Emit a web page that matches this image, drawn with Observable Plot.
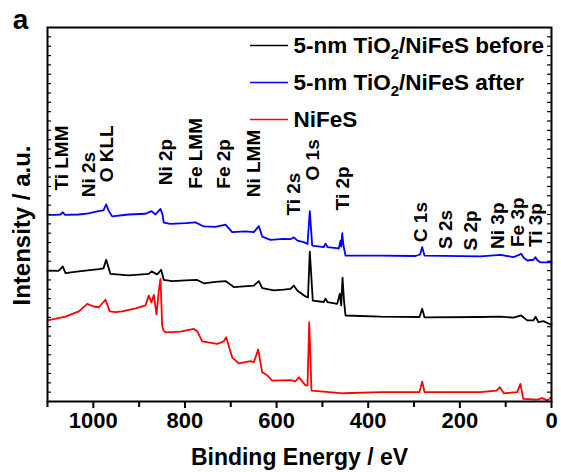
<!DOCTYPE html>
<html>
<head>
<meta charset="utf-8">
<script src="https://cdn.jsdelivr.net/npm/d3@7"></script>
<script src="https://cdn.jsdelivr.net/npm/@observablehq/plot@0.6"></script>
<style>
  html, body { margin: 0; padding: 0; background: #fff; }
  #chart { width: 561px; height: 472px; }
</style>
</head>
<body>
<div id="chart"></div>
<script>
// ---- Data (binding energy in eV, intensity in a.u.) ----
const seriesNames = ["5-nm TiO2/NiFeS before", "5-nm TiO2/NiFeS after", "NiFeS"];
const seriesColors = ["#000000", "#0000ff", "#ff0000"];

const afterEV = [1100,1082.5,1071.6,1066.6,1061.8,1032.3,1010.5,988.7,977.8,971.9,966.9,958.8,923.2,886.1,873,864.3,853.3,849,846.2,831.6,798.8,777,758.9,733.3,711.5,696.9,667.8,649.7,638.8,631.4,613.3,584.9,569.6,562.4,554.4,540.6,532.5,527.5,522.3,497,493.2,488.9,469.2,464.2,460.5,458.8,456.8,454,449.6,373.2,296.8,287,282.2,277.2,155,111.3,82.9,70.9,66.1,61.1,53,39.3,34.9,30.6,24,13.1,2.2,0];
const afterI  = [49.9,49.9,50.0,50.6,49.9,50.0,50.3,50.9,51.1,52.7,51.1,49.5,50.0,50.2,50.9,50.0,51.5,50.0,47.8,47.5,47.7,47.9,46.8,46.7,47.3,45.3,45.5,45.3,46.9,44.1,43.2,43.5,43.4,43.9,43.0,42.6,42.1,50.9,41.7,41.3,42.2,41.3,41.0,40.9,43.0,41.4,45.0,41.7,39.0,39.0,38.9,39.3,41.3,39.0,38.8,39.2,38.6,39.2,39.5,38.5,37.7,37.9,38.6,37.7,37.2,37.2,37.2,37.2];

const beforeEV = [1100,1076,1070.5,1066.6,1060.7,1031.7,1002.5,988,977.8,971.9,962.5,922.5,878.9,873,860.6,851.8,846.2,827.8,798.8,773.3,758.9,733.3,711.5,693.4,649.7,638.8,631.4,606.1,584.9,569.6,562.4,555,536.9,531.5,527.5,521,497,493.2,488.9,467.7,462,459,456.1,452.9,449.6,373.2,288.1,282.2,277.2,155,111.3,82.9,66.1,53,39.3,34.9,28.4,17.5,2.2,0];
const beforeI  = [35.0,34.9,35.6,36.1,34.3,34.8,35.2,35.4,35.6,37.9,34.1,33.7,34.1,34.8,34.0,35.2,32.5,32.2,32.4,32.5,31.6,32.0,32.2,30.6,31.0,32.2,30.3,29.7,29.9,30.1,31.0,29.7,28.1,27.8,40.1,27.0,26.6,27.5,26.6,26.1,28.8,25.7,33.1,27.0,23.0,22.7,22.6,24.8,22.5,22.6,22.7,22.4,23.0,21.7,21.7,22.7,21.2,21.5,20.6,20.6];

const nifesEV = [1100,1060.7,1031.7,1013.4,1009.8,998.9,988,973.4,964,951.6,937,907.9,886.1,878.9,873,868,862.1,857,853.4,849.7,846.8,842.4,809.7,780.7,772.6,762.4,729.6,715.2,710,696.9,682.5,656.9,649.7,640.1,631.4,620.5,609.6,569.6,558.7,551.5,536.9,532.5,528.8,523.8,454,373.2,288.1,282.2,277.2,155,120,112.8,104.1,74.9,67.7,61.8,31.2,20.3,9.4,0.7];
const nifesI  = [21.7,22.7,24.1,26.1,25.9,25.4,25.2,27.2,24.1,23.9,24.1,24.9,25.7,28.3,26.5,28.5,23.3,29.7,32.8,20.3,19.0,18.5,18.7,19.4,18.7,16.1,15.4,16.1,17.2,11.8,10.2,10.8,10.5,13.9,7.8,7.0,5.6,5.7,5.4,6.5,4.3,4.3,21.2,2.9,2.2,2.5,2.5,5.3,2.5,2.5,2.9,3.8,2.2,2.5,4.7,0.7,0.5,0.9,0.3,1.1];

// Peak annotations: label, energy (eV), intensity at which the label starts
const peakLabels = ["Ti LMM","Ni 2s","O KLL","Ni 2p","Fe LMM","Fe 2p","Ni LMM","Ti 2s","O 1s","Ti 2p","C 1s","S 2s","S 2p","Ni 3p","Fe 3p","Ti 3p"];
const peakEV     = [1067.9,1010.5,969.7,842.4,777,715.9,650.4,563.1,521.6,456.1,285.9,231.3,176.8,117.9,74.2,34.9];
const peakY      = [56.4,54.6,58.6,57.8,56.9,56.9,54.6,49.7,59.1,51.1,42.6,40.8,40.4,40.8,41.3,41.3];

// Legend placement (in data units)
const legendY = [95.2, 85.3, 75.4];
const legendLineEV = [657, 574];
const legendTextEV = 563;

const xMajorTicks = [1000, 800, 600, 400, 200, 0];
const xMinorTicks = [1100, 900, 700, 500, 300, 100];
const yMinorTicks = d3.range(2.5, 100, 2.5);

// ---- Build tables ----
function table(ev, inten, name) { return ev.map((e, i) => ({ev: e, I: inten[i], name})); }
const data = [
  ...table(beforeEV, beforeI, seriesNames[0]),
  ...table(afterEV, afterI, seriesNames[1]),
  ...table(nifesEV, nifesI, seriesNames[2])
];
const peaks = peakLabels.map((l, i) => ({label: l, ev: peakEV[i], y: peakY[i]}));
const legend = seriesNames.map((n, i) => ({name: n, color: seriesColors[i], y: legendY[i]}));

const font = "'Liberation Sans', Arial, Helvetica, sans-serif";

const plot = Plot.plot({
  width: 561,
  height: 472,
  marginLeft: 47,
  marginRight: 10,
  marginTop: 27,
  marginBottom: 71,
  style: {fontFamily: font, fontWeight: "bold", background: "#fff", overflow: "visible"},
  x: {domain: [1100, 0], axis: null},
  y: {domain: [0, 100], axis: null},
  color: {domain: seriesNames, range: seriesColors},
  marks: [
    Plot.line(data, {x: "ev", y: "I", z: "name", stroke: "name", strokeWidth: 1.8}),
    Plot.text(peaks, {x: "ev", y: "y", text: "label", rotate: -90, textAnchor: "start", lineAnchor: "middle",
      fontSize: 19, fontWeight: "bold", fill: "#000"}),
    Plot.ruleY(legend, {y: "y", x1: legendLineEV[0], x2: legendLineEV[1], stroke: "color", strokeWidth: 1.6}),
    Plot.text(legend, {x: legendTextEV, y: "y", text: "name", textAnchor: "start", lineAnchor: "middle",
      fontSize: 22.5, fontWeight: "bold", fill: "#000"}),
    // inward minor ticks along the left and right edges
    Plot.tickY(yMinorTicks, {y: d => d, insetRight: 500, stroke: "#000", strokeWidth: 1.2}),
    Plot.tickY(yMinorTicks, {y: d => d, insetLeft: 500, stroke: "#000", strokeWidth: 1.2}),
    Plot.frame({stroke: "#000", strokeWidth: 2}),
    Plot.axisX({ticks: xMajorTicks, tickSize: 7, tickPadding: 4, fontSize: 22, fontWeight: "bold",
      strokeWidth: 2, label: null, tickFormat: d => String(d)}),
    Plot.axisX({ticks: xMinorTicks, tickSize: 6, strokeWidth: 2, label: null, tickFormat: () => ""}),
    Plot.text(["Binding Energy / eV"], {frameAnchor: "bottom", dy: 56, lineAnchor: "middle",
      fontSize: 23, fontWeight: "bold", fill: "#000"}),
    Plot.text(["Intensity / a.u."], {frameAnchor: "left", dx: -25, dy: 11, rotate: -90, textAnchor: "middle", lineAnchor: "middle",
      fontSize: 24, fontWeight: "bold", fill: "#000"}),
    Plot.text(["a"], {frameAnchor: "top-left", dx: -27, dy: 1, lineAnchor: "bottom", textAnchor: "middle",
      fontSize: 28, fontWeight: "bold", fill: "#000"})
  ]
});

// Subscript the "2" of TiO2 in the legend
plot.querySelectorAll("text").forEach(t => {
  const s = t.textContent;
  if (s.includes("TiO2/")) {
    const [a, b] = s.split("TiO2");
    while (t.firstChild) t.removeChild(t.firstChild);
    const ns = "http://www.w3.org/2000/svg";
    const t1 = document.createElementNS(ns, "tspan"); t1.textContent = a + "TiO";
    const t2 = document.createElementNS(ns, "tspan"); t2.textContent = "2";
    t2.setAttribute("dy", "6"); t2.setAttribute("font-size", "15");
    const t3 = document.createElementNS(ns, "tspan"); t3.textContent = b;
    t3.setAttribute("dy", "-6");
    t.append(t1, t2, t3);
  }
});

document.getElementById("chart").appendChild(plot);
</script>
</body>
</html>
